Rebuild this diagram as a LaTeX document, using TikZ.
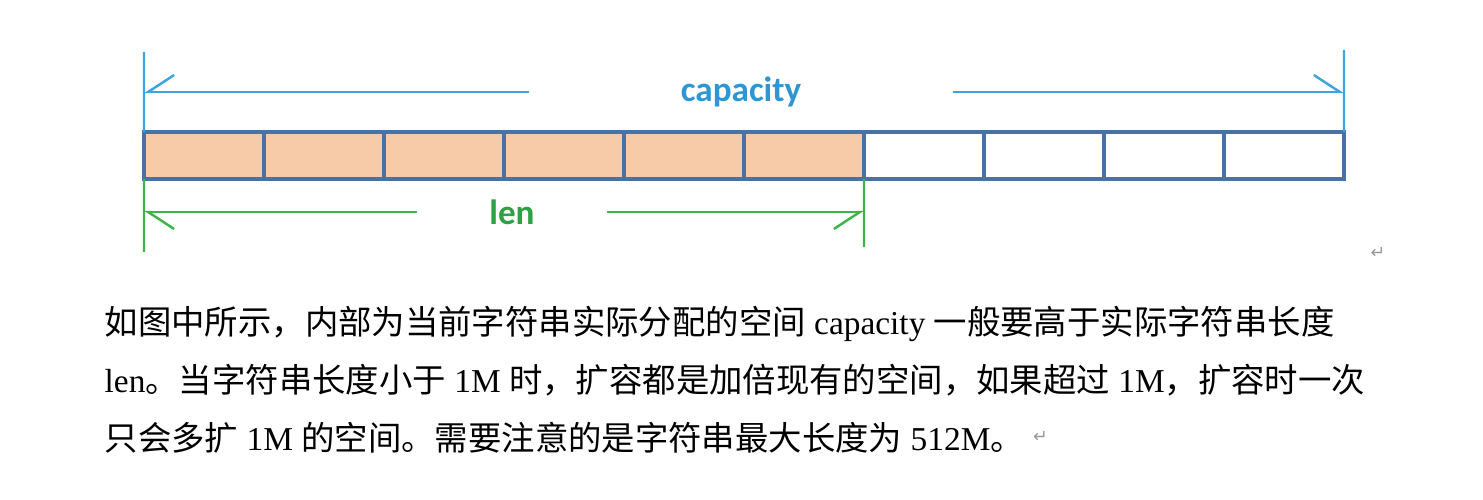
\documentclass[tikz,border=0pt]{standalone}
\usepackage{fontspec}
\setmainfont{Liberation Serif}
\newfontfamily\cjk{Noto Sans CJK SC}
\newfontfamily\lblfont{Carlito}
\newfontfamily\symfont{DejaVu Sans}
\usetikzlibrary{arrows.meta, positioning}
\definecolor{cellblue}{HTML}{4672A6}
\definecolor{cellfill}{HTML}{F8CBA8}
\definecolor{capblue}{HTML}{3FA3DE}
\definecolor{captext}{HTML}{2E96D2}
\definecolor{lengreen}{HTML}{3DB54A}
\definecolor{lentext}{HTML}{2FA043}
\newcommand{\zh}[1]{{\cjk #1}}

\begin{document}
\begin{tikzpicture}[node distance=1.2cm]
    \useasboundingbox (0,0) rectangle (14.83,4.99);

        % Define styles for cells and text
        \tikzstyle{used} = [rectangle, minimum width=1.2cm, minimum height=0.47cm, outer sep=0pt, draw=cellblue, line width=1pt, fill=cellfill]
        \tikzstyle{free} = [rectangle, minimum width=1.2cm, minimum height=0.47cm, outer sep=0pt, draw=cellblue, line width=1pt, fill=white]
        \tikzstyle{dimlabel} = [inner sep=0pt, font=\lblfont\bfseries\fontsize{10pt}{12pt}\selectfont]
        \tikzstyle{para} = [anchor=base west, inner sep=0pt, font=\fontsize{9.5pt}{11pt}\selectfont]
        \tikzstyle{retmark} = [inner sep=0pt, text=black!40, font=\symfont\fontsize{5pt}{6pt}\selectfont]

        % Define line styles
        \tikzstyle{capline} = [draw=capblue, line width=0.7pt]
        \tikzstyle{lenline} = [draw=lengreen, line width=0.7pt]
        \tikzstyle{barb} = [-{Straight Barb[harpoon, length=0.26cm, width=0.34cm]}]
        \tikzstyle{barbswap} = [-{Straight Barb[harpoon, swap, length=0.26cm, width=0.34cm]}]

        % Cells
        \node (c1) [used] at (2.04,3.435) {};
        \node (c2) [used, right of=c1] {};
        \node (c3) [used, right of=c2] {};
        \node (c4) [used, right of=c3] {};
        \node (c5) [used, right of=c4] {};
        \node (c6) [used, right of=c5] {};
        \node (c7) [free, right of=c6] {};
        \node (c8) [free, right of=c7] {};
        \node (c9) [free, right of=c8] {};
        \node (c10) [free, right of=c9] {};

        % Labels
        \node (cap) [dimlabel, text=captext, minimum width=4.22cm] at (7.41,4.07) {capacity};
        \node (len) [dimlabel, text=lentext, minimum width=1.89cm] at (5.12,2.87) {len};

        % Dimension ends
        \coordinate (capTL) at (1.44,4.47);
        \coordinate (capTR) at (13.44,4.49);
        \coordinate (lenBL) at (1.44,2.47);
        \coordinate (lenBR) at (8.64,2.52);
        \coordinate (capL) at (c1.west |- cap);
        \coordinate (capR) at (c10.east |- cap);
        \coordinate (lenL) at (c1.west |- len);
        \coordinate (lenR) at (c6.east |- len);

        % Arrows
        \draw [capline] (capTL) -- (c1.north west);
        \draw [capline] (capTR) -- (c10.north east);
        \draw [capline, barbswap] (cap.west) -- (capL);
        \draw [capline, barb] (cap.east) -- (capR);
        \draw [lenline] (c1.south west) -- (lenBL);
        \draw [lenline] (c6.south east) -- (lenBR);
        \draw [lenline, barb] (len.west) -- (lenL);
        \draw [lenline, barbswap] (len.east) -- (lenR);

        % Text below the picture
        \node (line1) [para] at (1.04,1.65) {\zh{如图中所示，内部为当前字符串实际分配的空间} capacity \zh{一般要高于实际字符串长度}};
        \node (line2) [para] at (1.04,1.07) {len\zh{。当字符串长度小于} 1M \zh{时，扩容都是加倍现有的空间，如果超过} 1M\zh{，扩容时一次}};
        \node (line3) [para] at (1.04,0.49) {\zh{只会多扩} 1M \zh{的空间。需要注意的是字符串最大长度为} 512M\zh{。}};
        \node (ret1) [retmark] at (13.78,2.46) {↵};
        \node (ret2) [retmark, right=0.08cm of line3.east] {↵};

\end{tikzpicture}
\end{document}
